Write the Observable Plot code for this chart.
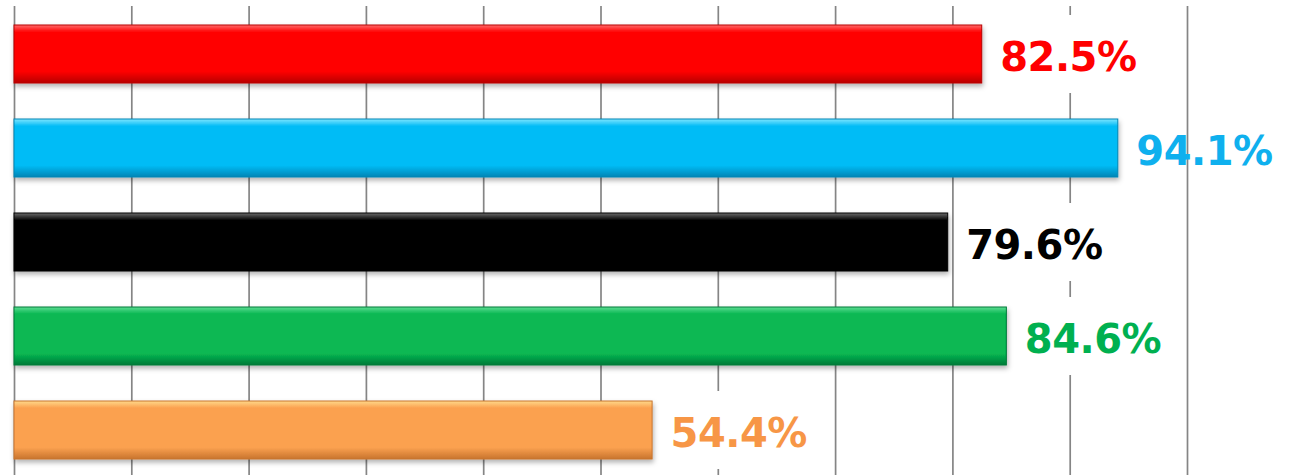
<!DOCTYPE html>
<html>
<head>
<meta charset="utf-8">
<script src="https://cdn.jsdelivr.net/npm/d3@7"></script>
<script src="https://cdn.jsdelivr.net/npm/@observablehq/plot@0.6"></script>
<style>
  html, body { margin: 0; padding: 0; background: #fff; }
  #chart svg { display: block; }
</style>
</head>
<body>
<div id="chart"></div>
<script>
// Data
const categories = ["1", "2", "3", "4", "5"];
const values = [82.5, 94.1, 79.6, 84.6, 54.4];
const labels = ["82.5%", "94.1%", "79.6%", "84.6%", "54.4%"];
const xTicks = [0, 10, 20, 30, 40, 50, 60, 70, 80, 90];
const xLastTick = [100];

// Styles
const baseColors = ["#ff0000", "#05bcf6", "#050505", "#08b852", "#fba150"];
const lightColors = ["#ff6a6a", "#7ee6ff", "#6a6a6a", "#5fdc92", "#ffd98a"];
const darkColors = ["#b80000", "#0085b5", "#000000", "#007a38", "#c8742e"];
const textColors = ["#ff0000", "#0fb0ee", "#000000", "#00b050", "#f79646"];

const data = categories.map((c, i) => ({
  cat: c, value: values[i], label: labels[i],
  grad: `url(#barGrad${i})`, stroke: darkColors[i], textColor: textColors[i]
}));

const svg = Plot.plot({
  width: 1294,
  height: 475,
  marginLeft: 14,
  marginRight: 107,
  marginTop: 6,
  marginBottom: 0,
  style: {background: "#fff"},
  x: {domain: [0, 100], axis: null},
  y: {domain: categories, axis: null, paddingInner: 0.383, paddingOuter: 0.186, align: 0.543},
  color: {type: "identity"},
  marks: [
    Plot.ruleX(xTicks, {stroke: "#858585", strokeWidth: 1.7}),
    Plot.barX(data, {x: "value", y: "cat", fill: "grad", stroke: "stroke", strokeWidth: 1}),
    Plot.barX(data, {x1: "value", x2: "value", y: "cat", fill: "white",
      insetLeft: 9, insetRight: -160, insetTop: -10, insetBottom: -10}),
    Plot.ruleX(xLastTick, {stroke: "#858585", strokeWidth: 1.7}),
    Plot.text(data, {x: "value", y: "cat", text: "label", fill: "textColor",
      textAnchor: "start", dx: 18, dy: 4,
      fontSize: 40, fontWeight: "bold", fontFamily: "'DejaVu Sans', sans-serif"})
  ]
});

// gradients & shadow
const s = d3.select(svg);
const defs = s.insert("defs", ":first-child");
baseColors.forEach((c, i) => {
  const g = defs.append("linearGradient").attr("id", `barGrad${i}`)
    .attr("x1", 0).attr("y1", 0).attr("x2", 0).attr("y2", 1);
  g.append("stop").attr("offset", "0%").attr("stop-color", lightColors[i]);
  g.append("stop").attr("offset", "12%").attr("stop-color", c);
  g.append("stop").attr("offset", "80%").attr("stop-color", c);
  g.append("stop").attr("offset", "100%").attr("stop-color", darkColors[i]);
});
const f = defs.append("filter").attr("id", "barShadow")
  .attr("x", "-5%").attr("y", "-20%").attr("width", "110%").attr("height", "160%");
f.append("feDropShadow").attr("dx", 1).attr("dy", 3).attr("stdDeviation", 2.5)
  .attr("flood-color", "#000").attr("flood-opacity", 0.3);
const barGroups = svg.querySelectorAll('g[aria-label="bar"]');
if (barGroups.length) barGroups[0].setAttribute("filter", "url(#barShadow)");
s.selectAll('g[aria-label="text"] text').style("letter-spacing", "-0.5px");

document.getElementById("chart").appendChild(svg);
</script>
</body>
</html>
